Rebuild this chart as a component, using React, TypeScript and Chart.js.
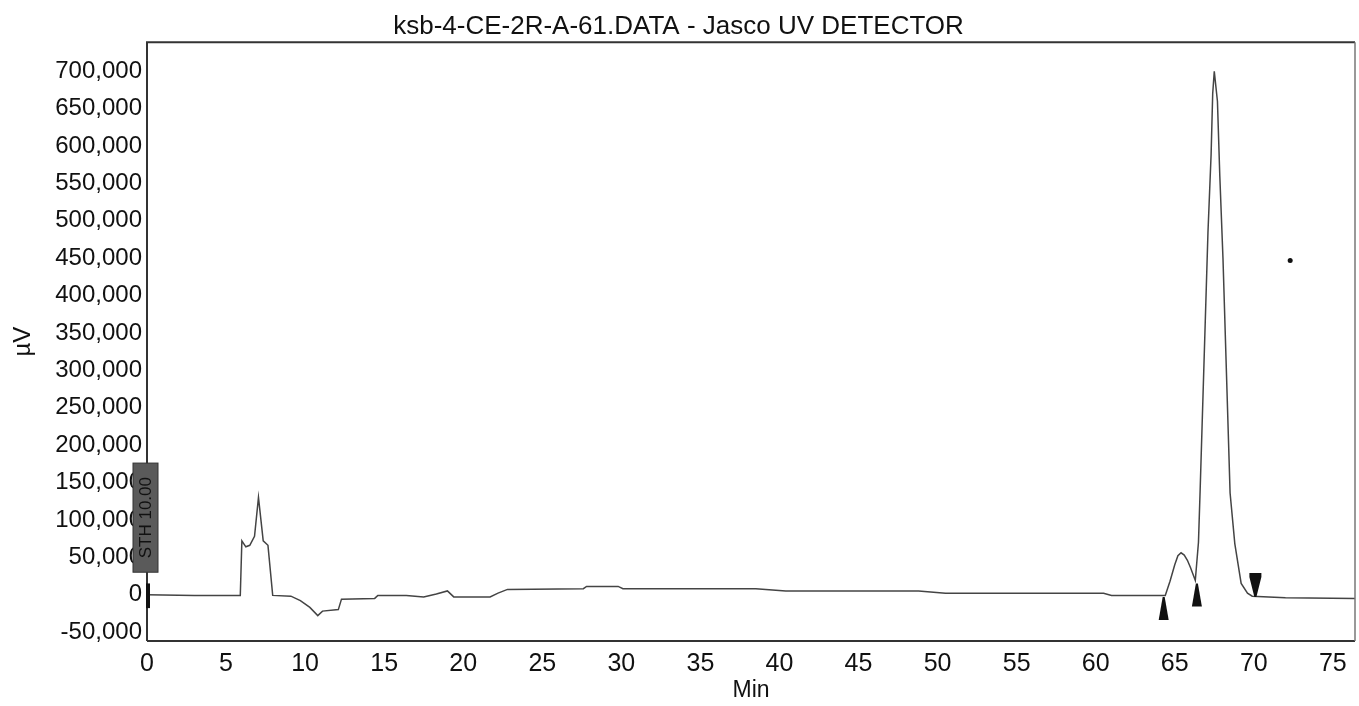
import React, { useEffect, useRef } from "react";
import { Chart, registerables } from "chart.js";

Chart.register(...registerables);

const FONT = "'Liberation Sans', Arial, sans-serif";

const TITLE = "ksb-4-CE-2R-A-61.DATA - Jasco UV DETECTOR";
const X_LABEL = "Min";
const Y_LABEL = "µV";

// retention time (min) and detector signal (µV)
const timeMin = [
  0, 3, 5.9, 6.0, 6.25, 6.5, 6.8, 7.05, 7.35, 7.65,
  7.95, 9.1, 9.7, 10.3, 10.8, 11.1, 12.1, 12.3, 14.4, 14.6,
  16.4, 17.5, 18.3, 19.0, 19.4, 21.7, 22.2, 22.8, 27.6, 27.8,
  29.8, 30.1, 38.5, 40.4, 48.8, 50.5, 60.5, 61.0, 64.4, 64.7,
  65.0, 65.2, 65.4, 65.6, 65.8, 66.0, 66.3, 66.5, 66.6, 67.1,
  67.3, 67.4, 67.5, 67.7, 67.85, 68.05, 68.5, 68.8, 69.2, 69.6,
  69.9, 72.0, 76.4,
];
const signalUV = [
  0, -1000, -1000, 72000, 64000, 66000, 78000, 130000, 72000, 66000,
  -1000, -2000, -8000, -17000, -28000, -22000, -20000, -6000, -5000, -1000,
  -1000, -3000, 1000, 5000, -3000, -3000, 2000, 7000, 8000, 11000,
  11000, 8000, 8000, 5000, 5000, 2000, 2000, -1000, -1000, 18000,
  40000, 52000, 56000, 53000, 46000, 36000, 19000, 70000, 136000, 484000,
  589000, 670000, 700000, 660000, 560000, 450000, 136000, 68000, 15000, 2000,
  -2000, -4000, -5000,
];

const xTicks = [0, 5, 10, 15, 20, 25, 30, 35, 40, 45, 50, 55, 60, 65, 70, 75];
const yTicks = [
  -50000, 0, 50000, 100000, 150000, 200000, 250000, 300000,
  350000, 400000, 450000, 500000, 550000, 600000, 650000, 700000,
];
const X_MIN = 0;
const X_MAX = 76.4;
const Y_MIN = -62000;
const Y_MAX = 739000;

// integration event markers
const markerTimes = [64.3, 66.4, 70.1];
const markerValues = [-3000, 15000, -3000];
const markerDirections = ["up", "up", "down"];

// threshold event at start
const eventTime = 0;
const eventLabel = "STH 10.00";
const eventBoxTop = 176000;
const eventBoxBottom = 30000;
const startBarTop = 15000;
const startBarBottom = -18000;

// stray point
const strayTimes = [72.3];
const strayValues = [447000];

const fmt = (v: number) => v.toLocaleString("en-US");

const overlayPlugin = {
  id: "overlay",
  afterDraw(chart: any) {
    const { ctx, chartArea, scales } = chart;
    const xs = scales.x;
    const ys = scales.y;
    ctx.save();

    // frame
    ctx.strokeStyle = "#333";
    ctx.lineWidth = 2;
    ctx.beginPath();
    ctx.moveTo(chartArea.left, chartArea.bottom);
    ctx.lineTo(chartArea.left, chartArea.top);
    ctx.lineTo(chartArea.right, chartArea.top);
    ctx.stroke();
    ctx.beginPath();
    ctx.moveTo(chartArea.left, chartArea.bottom);
    ctx.lineTo(chartArea.right, chartArea.bottom);
    ctx.stroke();
    ctx.strokeStyle = "#777";
    ctx.lineWidth = 1.5;
    ctx.beginPath();
    ctx.moveTo(chartArea.right, chartArea.top);
    ctx.lineTo(chartArea.right, chartArea.bottom);
    ctx.stroke();

    // markers
    ctx.fillStyle = "#111";
    markerTimes.forEach((t, i) => {
      const px = xs.getPixelForValue(t);
      const py = ys.getPixelForValue(markerValues[i]);
      ctx.beginPath();
      if (markerDirections[i] === "up") {
        ctx.moveTo(px - 1, py);
        ctx.lineTo(px + 1, py);
        ctx.lineTo(px + 5, py + 23);
        ctx.lineTo(px - 5, py + 23);
      } else {
        ctx.moveTo(px - 1, py);
        ctx.lineTo(px + 1, py);
        ctx.lineTo(px + 6, py - 20);
        ctx.lineTo(px + 6, py - 24);
        ctx.lineTo(px - 6, py - 24);
        ctx.lineTo(px - 6, py - 20);
      }
      ctx.closePath();
      ctx.fill();
    });

    // start bar
    const bx = xs.getPixelForValue(eventTime);
    const sbTop = ys.getPixelForValue(startBarTop);
    const sbBot = ys.getPixelForValue(startBarBottom);
    ctx.fillStyle = "#111";
    ctx.fillRect(bx - 1, sbTop, 4, sbBot - sbTop);

    // event box
    const top = ys.getPixelForValue(eventBoxTop);
    const bottom = ys.getPixelForValue(eventBoxBottom);
    ctx.fillStyle = "#5a5a5a";
    ctx.fillRect(bx - 14, top, 25, bottom - top);
    ctx.strokeStyle = "#333";
    ctx.lineWidth = 1;
    ctx.strokeRect(bx - 14, top, 25, bottom - top);
    ctx.translate(bx - 1.5, (top + bottom) / 2);
    ctx.rotate(-Math.PI / 2);
    ctx.textAlign = "center";
    ctx.textBaseline = "middle";
    ctx.fillStyle = "#111";
    ctx.font = `17px ${FONT}`;
    ctx.fillText(eventLabel, 0, 1);
    ctx.restore();
  },
};

export default function App() {
  const canvasRef = useRef<HTMLCanvasElement | null>(null);

  useEffect(() => {
    document.body.style.margin = "0";
    const canvas = canvasRef.current;
    if (!canvas) return;
    const chart = new Chart(canvas, {
      type: "line",
      data: {
        datasets: [
          {
            type: "line",
            data: timeMin.map((t, i) => ({ x: t, y: signalUV[i] })),
            borderColor: "#444",
            borderWidth: 1.5,
            pointRadius: 0,
            tension: 0,
            fill: false,
          },
          {
            type: "scatter",
            data: strayTimes.map((t, i) => ({ x: t, y: strayValues[i] })),
            pointRadius: 2.5,
            backgroundColor: "#111",
            borderWidth: 0,
          },
        ],
      } as any,
      options: {
        animation: false,
        responsive: false,
        devicePixelRatio: 1,
        layout: { padding: { left: 0, right: 2, top: 0, bottom: 0 } },
        plugins: {
          legend: { display: false },
          tooltip: { enabled: false },
          title: {
            display: true,
            text: TITLE,
            color: "#111",
            font: { family: FONT, size: 26, weight: "normal", lineHeight: 1.2 },
            padding: { top: 11, bottom: 0 },
          },
        },
        scales: {
          x: {
            type: "linear",
            min: X_MIN,
            max: X_MAX,
            grid: { display: false, drawTicks: false },
            border: { display: false },
            ticks: {
              color: "#111",
              font: { family: FONT, size: 25 },
              padding: 8,
              autoSkip: false,
              maxRotation: 0,
              includeBounds: false,
              callback: (v: any) => String(v),
            },
            afterBuildTicks: (s: any) => {
              s.ticks = xTicks.map((v) => ({ value: v }));
            },
            afterFit: (s: any) => {
              s.height = 65;
            },
            title: {
              display: true,
              text: X_LABEL,
              color: "#111",
              font: { family: FONT, size: 23, lineHeight: 1.2 },
              padding: { top: 0, bottom: 2 },
            },
          },
          y: {
            type: "linear",
            min: Y_MIN,
            max: Y_MAX,
            grid: { display: false, drawTicks: false },
            border: { display: false },
            ticks: {
              color: "#111",
              font: { family: FONT, size: 24 },
              padding: 5,
              autoSkip: false,
              includeBounds: false,
              callback: (v: any) => fmt(Number(v)),
            },
            afterBuildTicks: (s: any) => {
              s.ticks = yTicks.map((v) => ({ value: v }));
            },
            afterFit: (s: any) => {
              s.width = 147;
            },
            title: {
              display: true,
              text: Y_LABEL,
              color: "#111",
              font: { family: FONT, size: 24, lineHeight: 1.2 },
              padding: { top: 9, bottom: 0 },
            },
          },
        },
      } as any,
      plugins: [overlayPlugin],
    });
    return () => chart.destroy();
  }, []);

  return (
    <div style={{ width: 1359, height: 706, position: "relative", background: "#fff" }}>
      <canvas ref={canvasRef} width={1359} height={706} style={{ display: "block" }} />
    </div>
  );
}
